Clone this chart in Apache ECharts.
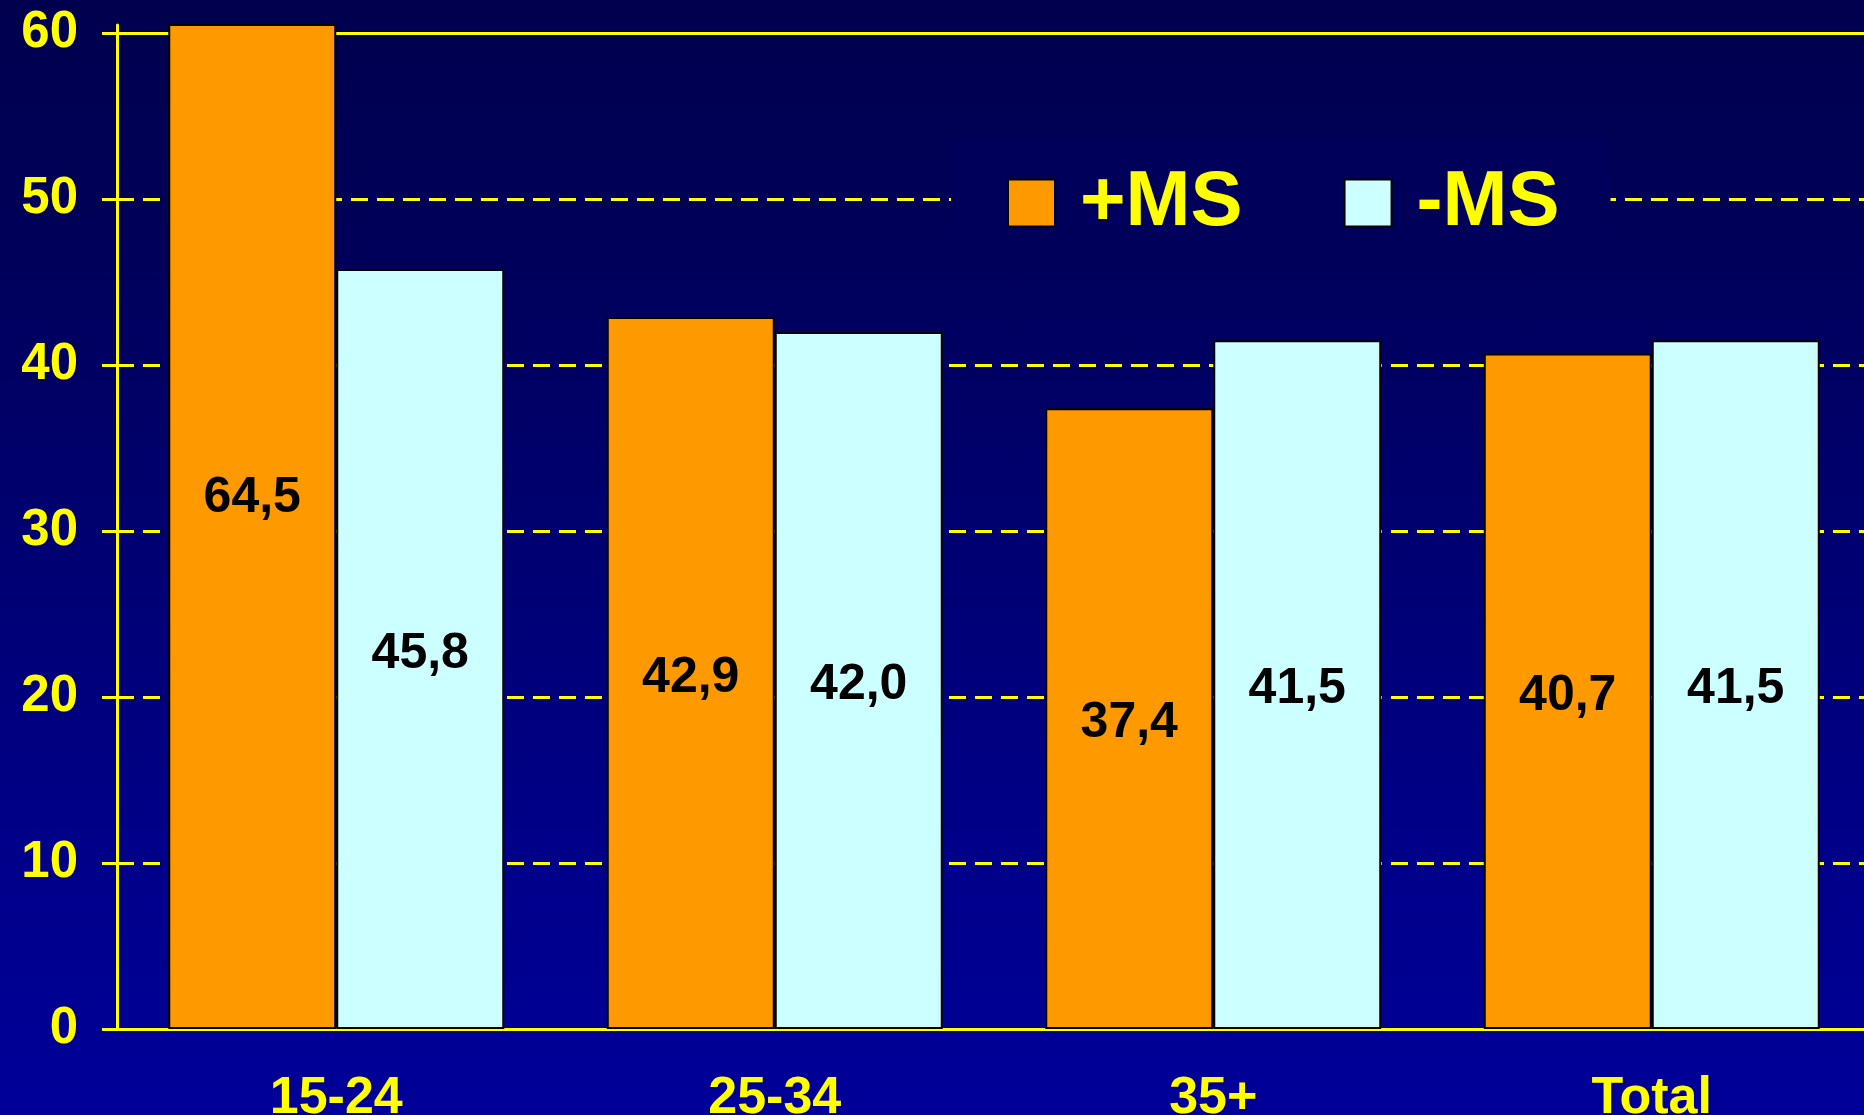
<!DOCTYPE html>
<html lang="en">
<head>
  <meta charset="UTF-8">
  <title>MS chart</title>
  <script src="https://cdn.jsdelivr.net/npm/echarts@6/dist/echarts.min.js"></script>
  <style>
    html, body { margin: 0; padding: 0; }
    #chart {
      width: 1864px; height: 1115px;
      background: linear-gradient(to bottom, #00004f 0%, #000058 20%, #00006e 45%, #000088 75%, #000099 100%);
    }
  </style>
</head>
<body>
  <div id="chart"></div>
  <script>
    // data
    const categories = ['15-24', '25-34', '35+', 'Total'];
    const plusMS = [64.5, 42.9, 37.4, 40.7];
    const minusMS = [45.8, 42.0, 41.5, 41.5];
    const yTicks = [0, 10, 20, 30, 40, 50, 60];

    const chart = echarts.init(document.getElementById('chart'));
    const axisMax = 60.5;
    const font = '"Liberation Sans", Arial, sans-serif';
    const baseOffset = 5;

    const labelStyle = {
      show: true,
      position: 'inside',
      offset: [0, baseOffset],
      color: '#000',
      fontFamily: font,
      fontWeight: 'bold',
      fontSize: 50,
      formatter: p => p.value.toFixed(1).replace('.', ',')
    };

    function barData(arr, offsets) {
      return arr.map((v, i) => offsets && offsets[i] ? { value: v, label: { offset: [0, offsets[i]] } } : v);
    }

    const option = {
      backgroundColor: 'transparent',
      animation: false,
      grid: { left: 117, width: 1754, top: 25, bottom: 86, containLabel: false, outerBoundsMode: 'none' },
      legend: {
        left: 951,
        top: 139,
        itemWidth: 47,
        itemHeight: 47,
        itemGap: 101,
        padding: [25, 51, 25, 56],
        backgroundColor: '#00005a',
        icon: 'rect',
        textStyle: {
          color: '#ffff00',
          fontFamily: font,
          fontWeight: 'bold',
          fontSize: 78,
          padding: [0, 0, 0, 20]
        },
        data: ['+MS', '-MS']
      },
      xAxis: {
        type: 'category',
        data: categories,
        axisLine: { lineStyle: { color: '#ffff00', width: 3 } },
        axisTick: { length: 18, lineStyle: { color: '#ffff00', width: 2 } },
        axisLabel: {
          color: '#ffff00', fontFamily: font, fontWeight: 'bold', fontSize: 52, margin: 44
        }
      },
      yAxis: {
        type: 'value',
        min: 0,
        max: axisMax,
        interval: 10,
        axisLine: { show: true, lineStyle: { color: '#ffff00', width: 3 } },
        axisTick: { show: true, length: 15, customValues: yTicks, lineStyle: { color: '#ffff00', width: 3 } },
        axisLabel: {
          customValues: yTicks,
          color: '#ffff00', fontFamily: font, fontWeight: 'bold', fontSize: 51, margin: 39
        },
        splitLine: {
          showMaxLine: false,
          lineStyle: { color: '#ffff00', width: 3, type: [17, 9] }
        }
      },
      series: [
        {
          name: '+MS',
          type: 'bar',
          barWidth: 168,
          barGap: '0%',
          data: barData(plusMS),
          itemStyle: { color: '#ff9900', borderColor: '#000', borderWidth: 2 },
          label: labelStyle,
          markLine: {
            silent: true,
            symbol: 'none',
            z: 1,
            label: { show: false },
            lineStyle: { color: '#ffff00', type: 'solid', width: 3 },
            data: [{ yAxis: 60 }]
          }
        },
        {
          name: '-MS',
          type: 'bar',
          barWidth: 168,
          barGap: '0%',
          data: barData(minusMS),
          itemStyle: { color: '#ccffff', borderColor: '#000', borderWidth: 2 },
          label: labelStyle
        }
      ]
    };
    chart.setOption(option);

    // bars taller than the axis are clipped; keep their label at the middle of the full bar
    const offsets = plusMS.map(v => {
      if (v <= axisMax) return 0;
      return baseOffset + chart.convertToPixel({ yAxisIndex: 0 }, v / 2) - chart.convertToPixel({ yAxisIndex: 0 }, axisMax / 2);
    });
    chart.setOption({ series: [{ data: barData(plusMS, offsets) }, {}] });
  </script>
</body>
</html>
